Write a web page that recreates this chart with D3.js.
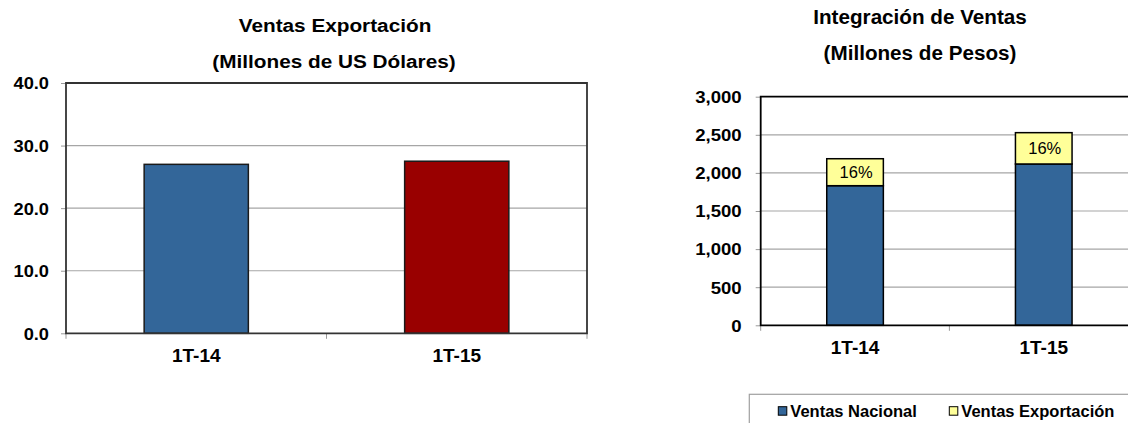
<!DOCTYPE html>
<html>
<head>
<meta charset="utf-8">
<script src="https://cdn.jsdelivr.net/npm/d3@7"></script>
<style>
  body { margin: 0; background: #fff; }
  svg { display: block; font-family: "Liberation Sans", Arial, sans-serif; }
</style>
</head>
<body>
<svg id="chart" width="1128" height="423"></svg>
<script>
// data
const categories = ["1T-14", "1T-15"];
const exportUSD = [27.0, 27.5];            // Millones de US Dólares
const barColors = ["#336699", "#990000"];
const nacionalMXN = [1832, 2117];          // Millones de Pesos
const exportMXN = [354, 411];
const seriesNames = ["Ventas Nacional", "Ventas Exportación"];
const seriesColors = ["#336699", "#FFFF99"];
const leftTicks = [0, 10, 20, 30, 40];
const rightTicks = [0, 500, 1000, 1500, 2000, 2500, 3000];

const svg = d3.select("#chart");

// text squeezed/stretched horizontally like the original export
function stext(g, x, y, str, size, sx, anchor, weight) {
  return g.append("text")
    .attr("transform", `translate(${x},${y}) scale(${sx},1)`)
    .attr("text-anchor", anchor || "middle")
    .style("font-size", size + "px")
    .style("font-weight", weight || "bold")
    .attr("fill", "#000")
    .text(str);
}

function drawFrame(g, x, y, ticks, sxY, offY, fmt, xLabelDy) {
  const [x0, x1] = x.range();
  const [y0, y1] = y.range();

  // gridlines
  g.append("g").selectAll("line")
    .data(ticks.slice(1, -1))
    .join("line")
      .attr("x1", x0).attr("x2", x1)
      .attr("y1", d => y(d)).attr("y2", d => y(d))
      .attr("stroke", "#a6a6a6").attr("stroke-width", 1.2);

  // y axis
  const yAxis = g.append("g").attr("transform", `translate(${x0},0)`)
    .call(d3.axisLeft(y).tickValues(ticks).tickSize(5).tickFormat(fmt));
  yAxis.select(".domain").remove();
  yAxis.selectAll(".tick line").attr("stroke", "#999");
  yAxis.selectAll(".tick text")
    .attr("x", null).attr("dy", "0.36em")
    .attr("transform", `translate(${offY},0) scale(${sxY},1)`)
    .attr("fill", "#000")
    .style("font-size", "16.3px").style("font-weight", "bold")
    .style("font-family", "'Liberation Sans', Arial, sans-serif");

  // x boundary ticks
  const bounds = d3.range(categories.length + 1).map(i => x0 + i * x.step());
  g.append("g").selectAll("line")
    .data(bounds)
    .join("line")
      .attr("x1", d => d).attr("x2", d => d)
      .attr("y1", y0).attr("y2", y0 + 5.5)
      .attr("stroke", "#999");

  // x labels
  const xAxis = g.append("g").attr("transform", `translate(0,${y0})`)
    .call(d3.axisBottom(x).tickSize(0));
  xAxis.select(".domain").remove();
  xAxis.selectAll(".tick text")
    .attr("y", null).attr("dy", null)
    .attr("transform", `translate(0,${xLabelDy}) scale(1.06,1)`)
    .attr("fill", "#000")
    .style("font-size", "18px").style("font-weight", "bold")
    .style("font-family", "'Liberation Sans', Arial, sans-serif");
}

function drawBorder(g, x, y, color) {
  const [x0, x1] = x.range();
  const [y0, y1] = y.range();
  g.append("path")
    .attr("d", `M${x0},${y0}V${y1}H${x1}V${y0}Z`)
    .attr("fill", "none")
    .attr("stroke", color)
    .attr("stroke-width", 1.8);
}

// ---------- left chart ----------
const xL = d3.scaleBand(categories, [66, 587]).paddingInner(0.6).paddingOuter(0.3);
const yL = d3.scaleLinear([0, 40], [333.3, 83]);
const gL = svg.append("g");

drawFrame(gL, xL, yL, leftTicks, 1.12, -17, d3.format(".1f"), 28.4);

gL.append("g").selectAll("rect")
  .data(categories)
  .join("rect")
    .attr("x", d => xL(d))
    .attr("width", xL.bandwidth())
    .attr("y", (d, i) => yL(exportUSD[i]))
    .attr("height", (d, i) => yL(0) - yL(exportUSD[i]))
    .attr("fill", (d, i) => barColors[i])
    .attr("stroke", "#1a1a1a").attr("stroke-width", 1.5);

drawBorder(gL, xL, yL, "#333");

stext(gL, 335, 31.7, "Ventas Exportación", 18.7, 1.11);
stext(gL, 334, 68.3, "(Millones de US Dólares)", 18.7, 1.11);

// ---------- right chart ----------
const xR = d3.scaleBand(categories, [760.7, 1138.1]).paddingInner(0.7).paddingOuter(0.35);
const yR = d3.scaleLinear([0, 3000], [325.3, 96.7]);
const gR = svg.append("g");

drawFrame(gR, xR, yR, rightTicks, 1.14, -19, d3.format(","), 28.7);

const stacked = d3.stack().keys([0, 1]).value((d, k) => k === 0 ? nacionalMXN[d] : exportMXN[d])(d3.range(categories.length));

gR.append("g").selectAll("g")
  .data(stacked)
  .join("g")
    .attr("fill", (s, k) => seriesColors[k])
  .selectAll("rect")
  .data(s => s)
  .join("rect")
    .attr("x", (d, i) => xR(categories[i]))
    .attr("width", xR.bandwidth())
    .attr("y", d => yR(d[1]))
    .attr("height", d => yR(d[0]) - yR(d[1]))
    .attr("stroke", "#000").attr("stroke-width", 1.5);

// percentage labels inside export segment
const pct = d3.format(".0%");
gR.append("g").selectAll("text")
  .data(categories)
  .join("text")
    .attr("x", d => xR(d) + xR.bandwidth() / 2 + 1)
    .attr("y", (d, i) => (yR(nacionalMXN[i]) + yR(nacionalMXN[i] + exportMXN[i])) / 2)
    .attr("dy", "0.36em")
    .attr("text-anchor", "middle")
    .style("font-size", "16.5px")
    .attr("fill", "#000")
    .text((d, i) => pct(exportMXN[i] / (nacionalMXN[i] + exportMXN[i])));

drawBorder(gR, xR, yR, "#000");

stext(gR, 920, 24, "Integración de Ventas", 19.5, 1.06);
stext(gR, 920, 60, "(Millones de Pesos)", 19.5, 1.06);

// legend
const lg = svg.append("g");
lg.append("rect")
  .attr("x", 749.3).attr("y", 394.3)
  .attr("width", 420).attr("height", 50)
  .attr("fill", "#fff").attr("stroke", "#a0a0a0").attr("stroke-width", 1.2);
const legendX = [778.3, 949.3];
seriesNames.forEach((name, k) => {
  lg.append("rect")
    .attr("x", legendX[k]).attr("y", 406.7)
    .attr("width", 8.5).attr("height", 8.5)
    .attr("fill", seriesColors[k])
    .attr("stroke", "#000").attr("stroke-width", 1);
  lg.append("text")
    .attr("x", legendX[k] + 12).attr("y", 416.7)
    .style("font-size", "16.5px").style("font-weight", "bold")
    .attr("fill", "#000")
    .text(name);
});
</script>
</body>
</html>
